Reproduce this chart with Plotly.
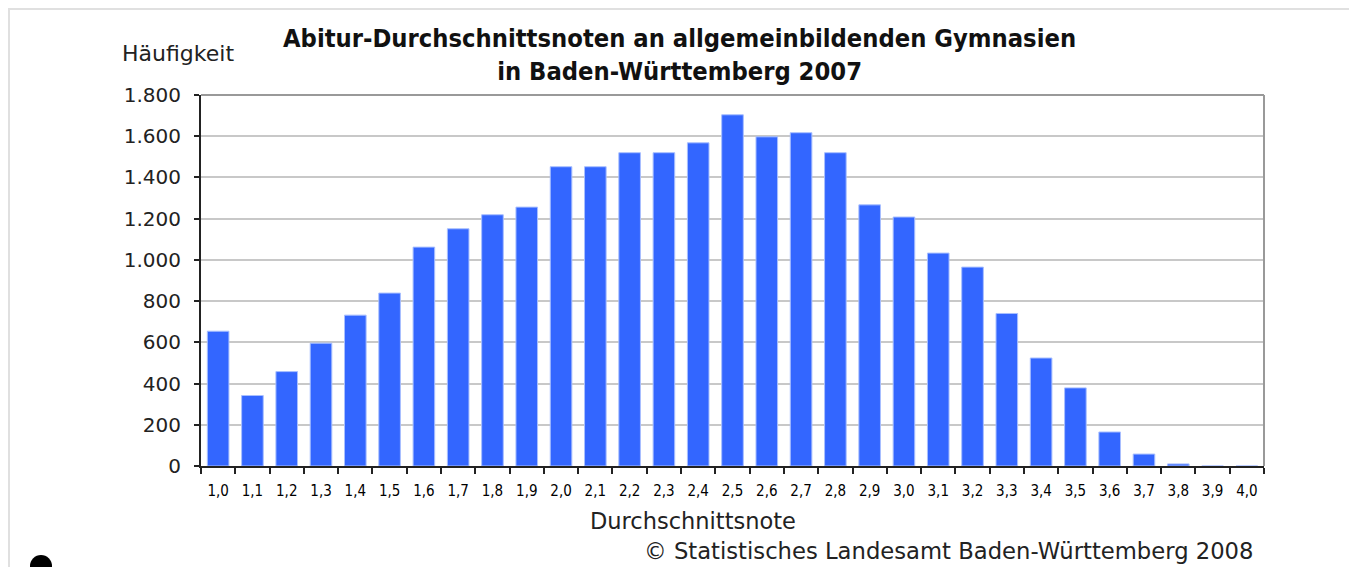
import plotly.graph_objects as go

categories = ["1,0", "1,1", "1,2", "1,3", "1,4", "1,5", "1,6", "1,7", "1,8", "1,9",
              "2,0", "2,1", "2,2", "2,3", "2,4", "2,5", "2,6", "2,7", "2,8", "2,9",
              "3,0", "3,1", "3,2", "3,3", "3,4", "3,5", "3,6", "3,7", "3,8", "3,9", "4,0"]
counts = [654, 342, 458, 596, 732, 839, 1062, 1151, 1219, 1256,
          1452, 1452, 1520, 1520, 1568, 1704, 1597, 1617, 1520, 1267,
          1208, 1033, 965, 740, 524, 379, 165, 58, 10, 0, 0]
y_ticks = [0, 200, 400, 600, 800, 1000, 1200, 1400, 1600, 1800]
y_ticktext = ["0", "200", "400", "600", "800", "1.000", "1.200", "1.400", "1.600", "1.800"]

OFF = 8  # page body margin
W, H = 1357 - 2 * OFF, 575 - 2 * OFF
# plot area in page pixels
L, R, T, B = 201, 1264, 95, 466

def px(x):
    return (x - L) / (R - L)

def py(y):
    return (B - y) / (B - T)

fig = go.Figure()
fig.add_trace(go.Bar(
    x=categories, y=counts,
    marker=dict(color="#3366ff", line=dict(color="#a8bfff", width=1)),
    hoverinfo="x+y",
))

base_font = "DejaVu Sans, Verdana, sans-serif"
cond_font = "DejaVu Sans Condensed, Liberation Sans Narrow, sans-serif"

fig.update_layout(
    width=W, height=H,
    margin=dict(l=L - OFF, r=(W + OFF) - R, t=T - OFF, b=(H + OFF) - B, pad=0),
    paper_bgcolor="white", plot_bgcolor="white",
    showlegend=False,
    bargap=0.37,
    xaxis=dict(
        type="category", tickson="boundaries", ticks="outside", ticklen=6,
        tickwidth=2, tickcolor="#222", showline=True, linecolor="#222", linewidth=2,
        showgrid=False, tickangle=0,
        tickfont=dict(family=cond_font, size=15, color="#000"),
        ticklabelstandoff=10, fixedrange=True,
    ),
    yaxis=dict(
        range=[0, 1800], tickvals=y_ticks, ticktext=y_ticktext,
        ticks="outside", ticklen=5, tickwidth=2, tickcolor="#222",
        showline=True, linecolor="#222", linewidth=2,
        showgrid=True, gridcolor="#c8c8c8", gridwidth=2, zeroline=False,
        tickfont=dict(family=base_font, size=20, color="#222"),
        ticklabelstandoff=9, fixedrange=True,
    ),
    annotations=[
        dict(text="<b>Abitur-Durchschnittsnoten an allgemeinbildenden Gymnasien<br>in Baden-Württemberg 2007</b>",
             x=px(679), y=py(55), xref="paper", yref="paper", xanchor="center", yanchor="middle",
             showarrow=False, font=dict(family=cond_font, size=25.3, color="#111"), align="center"),
        dict(text="Häufigkeit", x=px(120), y=py(53), xref="paper", yref="paper",
             xanchor="left", yanchor="middle", showarrow=False,
             font=dict(family=base_font, size=22, color="#222")),
        dict(text="Durchschnittsnote", x=px(693), y=py(521), xref="paper", yref="paper",
             xanchor="center", yanchor="middle", showarrow=False,
             font=dict(family=base_font, size=22.5, color="#222")),
        dict(text="© Statistisches Landesamt Baden-Württemberg 2008", x=px(948), y=py(551),
             xref="paper", yref="paper", xanchor="center", yanchor="middle", showarrow=False,
             font=dict(family=base_font, size=22.7, color="#222")),
    ],
    shapes=[
        dict(type="line", xref="paper", yref="paper", x0=0, x1=1, y0=1, y1=1,
             line=dict(color="#999", width=2)),
        dict(type="line", xref="paper", yref="paper", x0=1, x1=1, y0=0, y1=1,
             line=dict(color="#999", width=2)),
        dict(type="line", xref="paper", yref="paper", x0=px(8), x1=px(1357), y0=py(9), y1=py(9),
             line=dict(color="#e0e0e0", width=2)),
        dict(type="line", xref="paper", yref="paper", x0=px(9), x1=px(9), y0=py(8), y1=py(580),
             line=dict(color="#e0e0e0", width=2)),
        dict(type="circle", xref="paper", yref="paper", x0=px(30), x1=px(52), y0=py(555), y1=py(577),
             fillcolor="black", line=dict(color="black", width=0)),
    ],
)

fig.write_html("out.html")
